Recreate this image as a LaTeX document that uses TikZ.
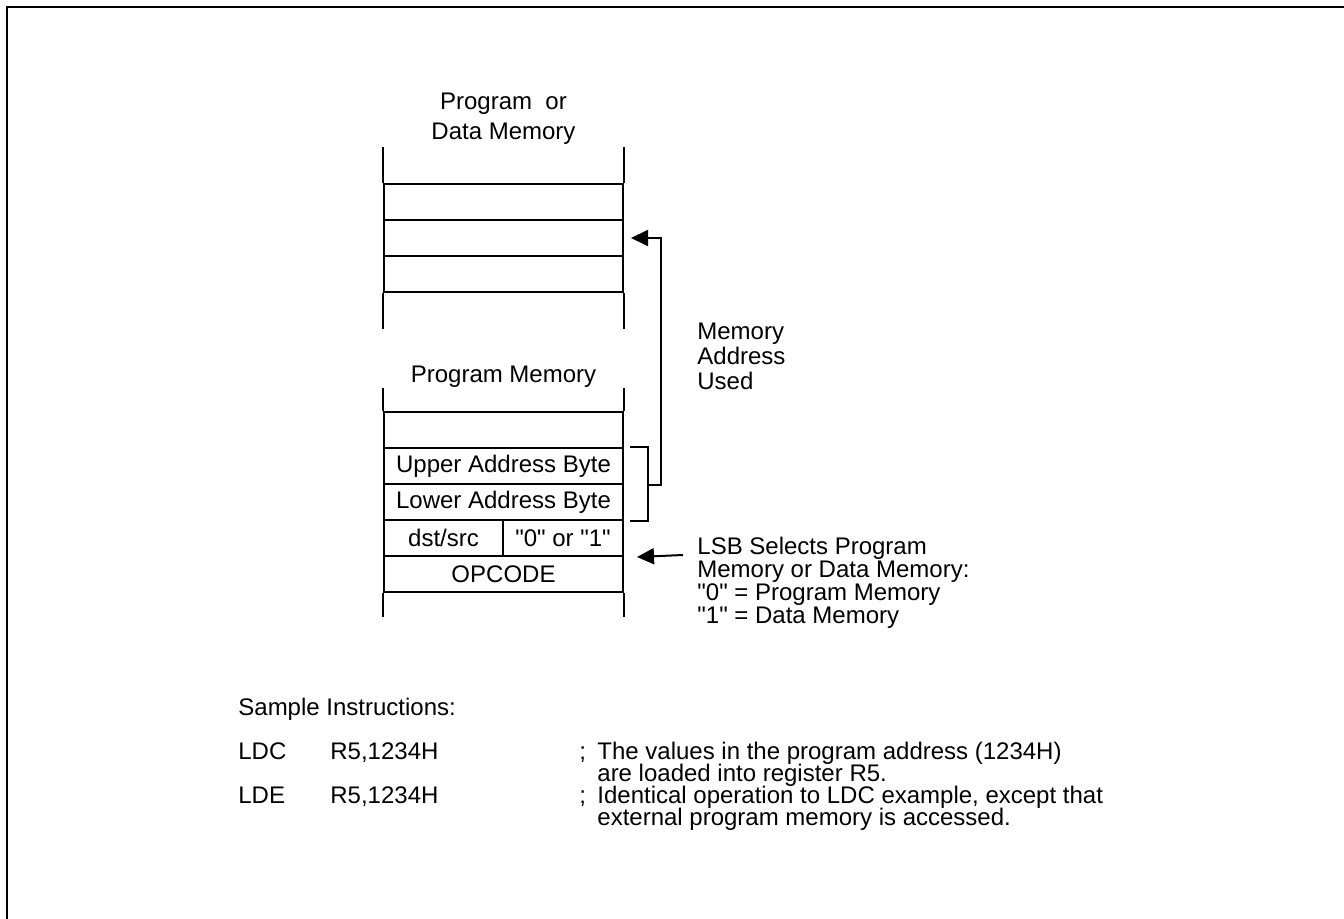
\documentclass[tikz,border=0pt]{standalone}
\usepackage{fontspec}
\setmainfont{Liberation Sans}[Ligatures=TeXOff]
\usetikzlibrary{arrows.meta}
\setlength{\lineskiplimit}{-10pt}

\tikzset{
  cell/.style={draw, line width=1pt, minimum width=119.5pt,
    minimum height=18pt, inner sep=0pt},
  wall/.style={line width=1pt},
  note/.style={anchor=west, align=left, inner sep=0pt},
  code/.style={anchor=base west, inner sep=0pt},
  ptr/.style={line width=1pt, -{Triangle[length=8.5pt,width=8pt]}},
}

\begin{document}
\begin{tikzpicture}[x=0.5pt, y=-0.5pt, font=\fontsize{12}{14}\selectfont]
  \useasboundingbox (0,0) rectangle (1344,919);
  \draw[line width=1.1pt] (7,919) -- (7,7) -- (1344,7);

  % program or data memory
  \node[align=center, font=\fontsize{12}{15}\selectfont] (pdtitle)
        at (503.5,119) {Program\ \ or\\Data Memory};
  \foreach \r/\y in {m1/202, m2/238, m3/274}
    \node[cell] (\r) at (503.5,\y) {};
  \draw[wall] (m1.north west) -- ++(0,-36) (m1.north east) -- ++(0,-36);
  \draw[wall] (m3.south west) -- ++(0,36) (m3.south east) -- ++(0,36);

  % program memory
  \node (pmtitle) at (503.5,377) {Program Memory};
  \node[cell] (p1) at (503.5,430) {};
  \node[cell] (upper) at (503.5,466) {Upper Address Byte};
  \node[cell] (lower) at (503.5,502) {Lower Address Byte};
  \node[cell, minimum width=59.5pt] (dst) at (443.5,538) {dst/src};
  \node[cell, minimum width=60pt] (sel) at (563,538) {"0" or "1"};
  \node[cell] (opcode) at (503.5,574) {OPCODE};
  \draw[wall] (p1.north west) -- ++(0,-23) (p1.north east) -- ++(0,-23);
  \draw[wall] (opcode.south west) -- ++(0,24) (opcode.south east) -- ++(0,24);

  % address pointer
  \draw[wall] ([shift={(6,0)}]upper.north east)
        -| ([shift={(24,0)}]lower.south east)
        -- ([shift={(6,0)}]lower.south east);
  \coordinate (tap) at ([shift={(24,0)}]upper.south east);
  \draw[ptr] (tap) -- ++(13,0) |- ([shift={(7,0)}]m2.east);
  \node[note, font=\fontsize{12}{12.5}\selectfont] (used) at (697,356)
        {Memory\\Address\\Used};

  % lsb
  \coordinate (lsbtail) at (683,555);
  \draw[ptr] (lsbtail) -- ([shift={(13,0)}]sel.south east);
  \node[note, font=\fontsize{12}{11.5}\selectfont] (lsb) at (697,582.75)
        {LSB Selects Program\\Memory or Data Memory:\\"0" = Program Memory\\"1" = Data Memory};

  % sample instructions
  \node[code] (sample) at (238,715.5) {Sample Instructions:};
  \node[code] (ldc) at (238,759.5) {LDC};
  \node[code] (ldcarg) at (330,759.5) {R5,1234H};
  \node[code] (ldcsep) at (579,759.5) {;};
  \node[note, font=\fontsize{12}{11}\selectfont] (ldctxt) at (597,764.25)
        {The values in the program address (1234H)\\are loaded into register R5.};
  \node[code] (lde) at (238,803.5) {LDE};
  \node[code] (ldearg) at (330,803.5) {R5,1234H};
  \node[code] (ldesep) at (579,803.5) {;};
  \node[note, font=\fontsize{12}{11}\selectfont] (ldetxt) at (597,808.25)
        {Identical operation to LDC example, except that\\external program memory is accessed.};
\end{tikzpicture}
\end{document}
